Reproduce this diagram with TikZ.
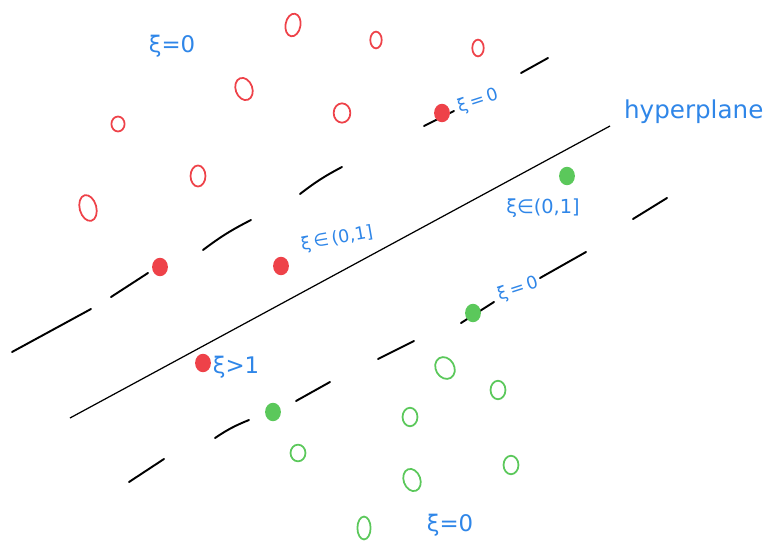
\documentclass[tikz,border=0pt]{standalone}
\usepackage{fontspec}
\setmainfont{DejaVu Sans}
\definecolor{PosRed}{HTML}{EE4249}
\definecolor{NegGreen}{HTML}{5BC85B}
\definecolor{NoteBlue}{HTML}{2F86E8}
\usepackage{tikz}
\usetikzlibrary{shapes.geometric}

\begin{document}
\begin{tikzpicture}[x=0.02cm, y=-0.02cm,
  ring/.style={ellipse, draw, line width=1pt, inner sep=0pt,
               minimum width=8.5pt, minimum height=12pt},
  redring/.style={ring, draw=PosRed},
  greenring/.style={ring, draw=NegGreen},
  spot/.style={ellipse, inner sep=0pt, minimum width=9pt, minimum height=10.5pt},
  redspot/.style={spot, fill=PosRed},
  greenspot/.style={spot, fill=NegGreen},
  margin/.style={line width=1.1pt, line cap=round},
  note/.style={text=NoteBlue, inner sep=1pt, font=\fontsize{13}{13}\selectfont},
  small/.style={note, font=\fontsize{10}{11}\selectfont},
]
  \useasboundingbox (0,0) rectangle (768,544);

  % separating line and its two margins
  \draw[line width=0.7pt] (70,418) -- (610,126);
  \draw[margin] (12,352) -- (91,309);
  \draw[margin] (111,297) -- (148,273);
  \draw[margin] (203,250) to[bend left=5] (251,220);
  \draw[margin] (300,194) to[bend left=5] (342,167);
  \draw[margin] (424,126) -- (454,111);
  \draw[margin] (521,73) -- (548,58);
  \draw[margin] (129,482) -- (164,459);
  \draw[margin] (215,438) to[bend left=6] (249,420);
  \draw[margin] (296,401) -- (330,382);
  \draw[margin] (378,359) -- (414,341);
  \draw[margin] (461,323) -- (494,302);
  \draw[margin] (540,278) -- (586,252);
  \draw[margin] (633,219) -- (667,198);

  % red class
  \node[redring, rotate=-10, minimum height=13pt] (r1) at (293,25) {};
  \node[redring, minimum width=6.5pt, minimum height=9.5pt] (r2) at (376,40) {};
  \node[redring, minimum width=6.5pt, minimum height=9.5pt] (r3) at (478,48) {};
  \node[redring, rotate=20, minimum width=9.5pt, minimum height=13pt] (r4) at (244,89) {};
  \node[redring, minimum width=9.5pt, minimum height=11pt] (r5) at (342,113) {};
  \node[redring, minimum width=7.5pt, minimum height=8.5pt] (r6) at (118,124) {};
  \node[redring] (r7) at (198,176) {};
  \node[redring, rotate=15, minimum width=9.5pt, minimum height=15pt] (r8) at (88,208) {};
  \node[redspot] (rs1) at (160,267) {};
  \node[redspot] (rs2) at (281,266) {};
  \node[redspot] (rs3) at (442,113) {};
  \node[redspot] (rs4) at (203,363) {};

  % green class
  \node[greenring, rotate=30, minimum width=10.5pt, minimum height=13pt] (g1) at (445,368) {};
  \node[greenring, minimum height=10.5pt] (g2) at (498,390) {};
  \node[greenring, minimum height=10.5pt] (g3) at (410,417) {};
  \node[greenring, minimum height=9.5pt] (g4) at (298,453) {};
  \node[greenring, minimum height=10.5pt] (g5) at (511,465) {};
  \node[greenring, rotate=20, minimum width=9.5pt, minimum height=13pt] (g6) at (412,480) {};
  \node[greenring, minimum width=7.5pt, minimum height=13pt] (g7) at (364,528) {};
  \node[greenspot] (gs1) at (567,176) {};
  \node[greenspot] (gs2) at (473,313) {};
  \node[greenspot] (gs3) at (273,412) {};

  % slack labels
  \node[note] (xitop) at (172,46) {ξ=0};
  \node[small, rotate=18] (xired) at (478,101) {ξ\,=\,0};
  \node[note, anchor=west, font=\fontsize{14}{14}\selectfont] (hyper) at (622,112) {hyperplane};
  \node[note, font=\fontsize{11}{11}\selectfont] (xiright) at (543,208) {ξ∈(0,1]};
  \node[small, rotate=10] (ximid) at (337,239) {ξ\,∈\,(0,1]};
  \node[small, rotate=18] (xigreen) at (518,289) {ξ\,=\,0};
  \node[note] (xiover) at (236,367) {ξ>1};
  \node[note] (xibottom) at (450,525) {ξ=0};
\end{tikzpicture}
\end{document}
